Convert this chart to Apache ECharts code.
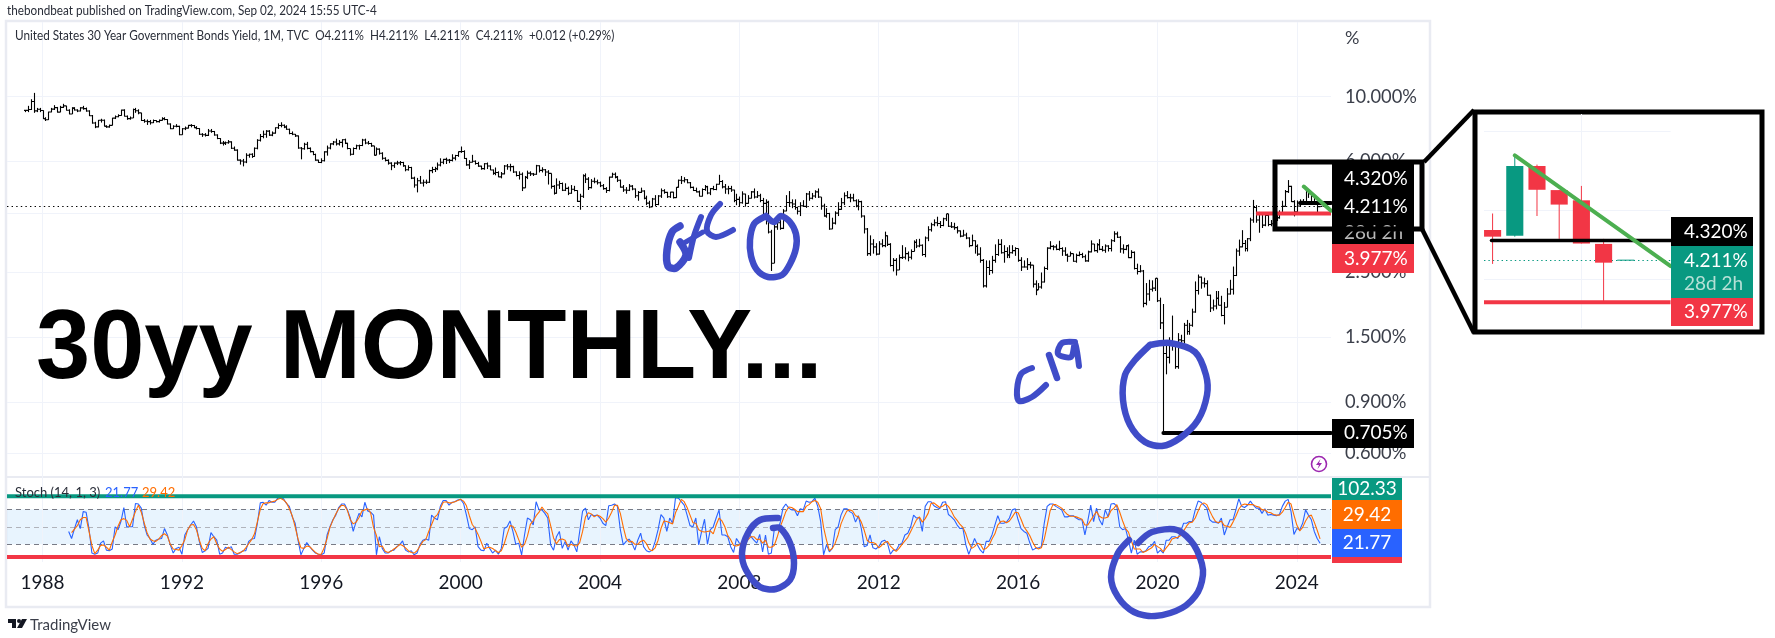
<!DOCTYPE html>
<html><head><meta charset="utf-8">
<style>html,body{margin:0;padding:0;background:#fff}#c{width:1775px;height:638px}</style>
<script src="https://cdn.jsdelivr.net/npm/echarts@6/dist/echarts.min.js"></script>
</head><body><div id="c"></div>
<script>
// ---------- monthly data, first month is 1987-07 ----------
const firstYear = 1987.5;
const closes = [8.97,9.03,9.62,8.94,9.05,8.96,
8.40,8.33,8.86,9.06,9.17,8.85,9.19,9.30,8.98,8.72,9.13,9.00,
8.93,9.15,9.10,8.93,8.60,8.12,7.88,8.30,8.30,7.92,7.88,7.97,
8.44,8.53,8.62,8.99,8.57,8.41,8.45,9.03,8.95,8.80,8.28,8.24,
8.21,8.14,8.28,8.21,8.29,8.41,8.35,8.06,7.76,7.92,7.91,7.40,
7.76,7.80,7.97,7.96,7.83,7.78,7.43,7.40,7.37,7.63,7.60,7.39,
7.19,6.93,6.93,6.95,7.00,6.66,6.56,6.06,6.02,5.97,6.30,6.35,
6.24,6.66,7.09,7.30,7.43,7.62,7.38,7.50,7.82,7.96,7.98,7.87,
7.73,7.48,7.43,7.34,6.67,6.63,6.87,6.65,6.48,6.34,6.06,5.95,
6.03,6.47,6.67,6.89,6.99,6.89,6.97,7.12,6.92,6.64,6.35,6.64,
6.79,6.80,7.10,6.94,6.91,6.78,6.30,6.61,6.40,6.15,6.05,5.92,
5.80,5.92,5.93,5.95,5.80,5.62,5.72,5.26,4.98,5.15,5.06,5.09,
5.09,5.58,5.63,5.66,5.83,5.96,6.10,6.06,6.05,6.16,6.29,6.48,
6.49,6.14,5.84,5.96,6.01,5.90,5.78,5.67,5.89,5.79,5.61,5.46,
5.50,5.31,5.44,5.79,5.75,5.76,5.52,5.37,5.42,4.87,5.29,5.47,
5.44,5.42,5.80,5.59,5.62,5.52,5.46,4.93,4.67,4.98,5.04,4.78,
4.85,4.67,4.82,4.77,4.38,4.56,5.36,5.22,4.88,5.13,5.11,5.07,
4.95,4.84,4.77,5.30,5.42,5.30,5.17,4.90,4.79,4.78,4.94,4.83,
4.58,4.70,4.75,4.49,4.32,4.19,4.46,4.27,4.57,4.76,4.70,4.54,
4.71,4.51,4.89,5.17,5.15,5.19,5.07,4.89,4.77,4.72,4.56,4.81,
4.92,4.68,4.84,4.81,5.01,5.12,4.91,4.83,4.84,4.79,4.41,4.45,
4.33,4.64,4.31,4.49,4.72,4.53,4.58,4.41,4.31,4.35,3.44,2.69,
3.58,3.70,3.54,4.06,4.34,4.33,4.29,4.17,4.05,4.23,4.21,4.64,
4.49,4.57,4.72,4.53,4.22,3.90,3.98,3.52,3.69,3.99,4.11,4.33,
4.58,4.51,4.50,4.40,4.22,4.37,3.90,3.52,2.90,3.13,3.06,2.89,
3.13,3.09,3.34,3.12,2.64,2.75,2.55,2.81,2.82,2.90,2.82,2.95,
3.17,3.08,3.10,2.88,3.28,3.50,3.64,3.70,3.68,3.62,3.82,3.97,
3.60,3.58,3.56,3.47,3.33,3.36,3.28,3.09,3.21,3.07,2.89,2.75,
2.25,2.60,2.54,2.75,2.88,3.12,2.92,2.95,2.87,2.92,2.97,3.02,
2.75,2.61,2.61,2.66,2.65,2.28,2.18,2.23,2.32,2.58,3.03,3.07,
3.06,3.00,3.02,2.96,2.87,2.84,2.90,2.73,2.86,2.88,2.83,2.74,
2.94,3.13,2.97,3.11,3.00,2.98,3.08,3.02,3.21,3.39,3.30,3.01,
3.00,3.09,2.81,2.93,2.58,2.52,2.53,1.96,2.11,2.19,2.21,2.39,
2.00,1.68,1.32,1.28,1.41,1.41,1.19,1.47,1.46,1.65,1.57,1.65,
1.83,2.17,2.41,2.30,2.29,2.09,1.89,1.92,2.04,1.93,1.78,1.90,
2.11,2.19,2.44,2.96,3.06,3.14,3.02,3.26,3.78,4.17,3.78,3.97,
3.63,3.92,3.65,3.67,3.86,3.85,4.01,4.21,4.73,4.93,4.37,4.03,
4.22,4.38,4.34,4.79,4.65,4.56,4.30,4.20,4.211];
const highs = [9.00,9.30,9.80,10.30,9.15,9.15,
8.98,8.50,8.88,9.15,9.35,9.22,9.30,9.45,9.30,9.05,9.20,9.20,
9.05,9.20,9.30,9.18,8.98,8.65,8.20,8.32,8.40,8.35,7.98,8.02,
8.46,8.62,8.70,9.02,9.05,8.62,8.55,9.10,9.15,9.05,8.80,8.38,
8.35,8.32,8.35,8.30,8.35,8.50,8.50,8.38,8.10,7.98,8.05,7.95,
7.80,7.90,8.00,8.05,8.00,7.92,7.80,7.50,7.50,7.75,7.75,7.63,
7.43,7.21,7.05,7.02,7.10,7.03,6.75,6.60,6.10,6.12,6.40,6.38,
6.40,6.70,7.15,7.45,7.65,7.68,7.68,7.60,7.85,8.10,8.17,8.03,
7.98,7.77,7.60,7.45,7.36,6.72,6.95,7.00,6.70,6.50,6.38,6.08,
6.15,6.50,6.80,6.92,7.05,7.18,7.10,7.15,7.18,6.95,6.64,6.70,
6.85,6.85,7.17,7.18,7.05,6.95,6.78,6.70,6.65,6.45,6.20,6.10,
5.96,5.95,6.03,6.02,5.98,5.82,5.82,5.75,5.32,5.27,5.35,5.20,
5.20,5.62,5.75,5.75,5.95,6.15,6.12,6.18,6.12,6.35,6.32,6.49,
6.75,6.55,6.17,6.06,6.32,6.05,5.98,5.80,5.92,5.95,5.82,5.63,
5.72,5.55,5.52,5.83,5.88,5.89,5.80,5.55,5.55,5.50,5.35,5.58,
5.55,5.48,5.84,5.82,5.73,5.65,5.60,5.45,4.98,5.25,5.15,5.08,
5.05,4.92,4.98,4.95,4.78,4.65,5.42,5.46,5.30,5.22,5.28,5.20,
5.12,5.02,4.90,5.32,5.49,5.50,5.35,5.20,4.98,4.90,5.02,4.98,
4.85,4.75,4.88,4.78,4.58,4.40,4.50,4.60,4.60,4.85,4.82,4.72,
4.72,4.72,4.90,5.20,5.35,5.30,5.22,5.10,4.92,4.88,4.77,4.85,
4.98,4.95,4.86,4.95,5.03,5.40,5.18,5.02,4.95,4.95,4.80,4.65,
4.55,4.74,4.65,4.60,4.75,4.85,4.75,4.65,4.50,4.45,4.40,3.50,
3.70,3.75,3.90,4.12,4.60,4.75,4.45,4.45,4.20,4.35,4.42,4.68,
4.75,4.68,4.78,4.85,4.50,4.30,4.15,4.00,3.85,4.05,4.35,4.50,
4.70,4.75,4.65,4.65,4.45,4.45,4.40,3.92,3.55,3.35,3.25,3.15,
3.20,3.25,3.45,3.35,3.15,2.80,2.80,2.88,3.10,3.05,2.95,3.00,
3.22,3.25,3.26,3.12,3.32,3.60,3.70,3.80,3.88,3.75,3.85,3.97,
3.97,3.72,3.70,3.60,3.48,3.50,3.42,3.30,3.37,3.22,3.12,3.05,
2.78,2.75,2.75,2.85,3.12,3.25,3.25,3.10,3.05,3.10,3.10,3.05,
3.02,2.82,2.75,2.80,2.72,2.60,2.35,2.30,2.50,2.62,3.05,3.20,
3.10,3.12,3.21,3.05,3.05,2.90,2.95,2.88,2.90,2.95,2.92,2.88,
2.97,3.22,3.13,3.15,3.25,3.08,3.12,3.10,3.25,3.46,3.45,3.33,
3.12,3.10,3.12,2.98,2.95,2.68,2.65,2.55,2.30,2.36,2.35,2.39,
2.36,2.05,1.95,1.45,1.50,1.78,1.42,1.55,1.53,1.68,1.72,1.68,
1.88,2.33,2.46,2.42,2.40,2.35,2.10,2.02,2.16,2.16,2.08,1.98,
2.21,2.36,2.62,3.02,3.24,3.49,3.23,3.28,3.85,4.43,4.25,4.03,
3.98,3.97,3.98,3.78,3.99,3.98,4.08,4.40,4.79,5.18,4.95,4.42,
4.41,4.45,4.46,4.81,4.78,4.67,4.62,4.33,4.211];
const lows = [8.85,8.85,9.00,8.80,8.85,8.85,
8.38,8.25,8.32,8.84,9.00,8.82,8.85,9.15,8.96,8.70,8.75,8.96,
8.85,8.90,9.02,8.88,8.58,8.08,7.80,7.85,8.15,7.90,7.82,7.83,
7.98,8.38,8.50,8.60,8.55,8.33,8.34,8.45,8.80,8.70,8.25,8.14,
8.00,8.02,8.12,8.16,8.15,8.28,8.30,8.03,7.74,7.75,7.85,7.38,
7.40,7.68,7.78,7.85,7.80,7.72,7.40,7.28,7.30,7.33,7.52,7.35,
7.15,6.88,6.80,6.83,6.90,6.62,6.53,6.04,5.85,5.77,5.92,6.18,
6.17,6.22,6.60,7.02,7.20,7.23,7.34,7.32,7.47,7.75,7.85,7.80,
7.70,7.43,7.38,7.28,6.63,6.10,6.58,6.60,6.44,6.30,6.03,5.93,
5.92,6.00,6.28,6.60,6.82,6.80,6.80,6.70,6.88,6.60,6.28,6.32,
6.60,6.58,6.77,6.87,6.85,6.73,6.28,6.30,6.33,6.08,6.00,5.85,
5.60,5.70,5.83,5.82,5.75,5.55,5.58,5.22,4.88,4.70,5.03,4.92,
5.02,5.06,5.47,5.52,5.60,5.77,5.87,5.88,5.92,6.00,6.05,6.22,
6.42,6.12,5.80,5.65,5.95,5.85,5.75,5.62,5.62,5.65,5.60,5.40,
5.38,5.30,5.25,5.42,5.62,5.55,5.48,5.33,5.20,4.75,4.87,5.22,
5.35,5.35,5.40,5.50,5.50,5.35,5.00,4.84,4.62,4.65,4.83,4.75,
4.75,4.60,4.65,4.74,4.36,4.10,4.50,5.06,4.79,4.85,5.05,5.00,
4.90,4.80,4.68,4.74,5.28,5.25,5.10,4.88,4.72,4.65,4.75,4.78,
4.50,4.40,4.68,4.45,4.25,4.15,4.20,4.22,4.25,4.50,4.65,4.50,
4.50,4.48,4.50,4.88,5.02,5.08,5.05,4.85,4.75,4.70,4.55,4.55,
4.76,4.63,4.60,4.78,4.78,5.00,4.85,4.65,4.63,4.72,4.35,4.25,
4.20,4.30,4.20,4.30,4.48,4.48,4.50,4.35,3.95,3.65,3.40,2.53,
2.75,3.50,3.50,3.52,4.05,4.20,4.15,4.10,3.95,3.90,4.20,4.16,
4.40,4.45,4.50,4.50,4.10,3.88,3.85,3.50,3.55,3.65,3.90,4.10,
4.25,4.48,4.35,4.38,4.18,4.08,3.85,3.40,2.85,2.85,2.90,2.86,
2.88,3.05,3.05,3.08,2.62,2.52,2.44,2.55,2.78,2.77,2.73,2.77,
2.98,3.03,3.05,2.85,2.82,3.20,3.45,3.60,3.60,3.55,3.60,3.75,
3.58,3.55,3.50,3.40,3.30,3.32,3.25,3.05,3.08,2.90,2.85,2.70,
2.22,2.22,2.45,2.48,2.70,2.85,2.90,2.70,2.80,2.80,2.90,2.85,
2.72,2.53,2.60,2.55,2.58,2.22,2.09,2.18,2.20,2.31,2.55,3.00,
2.98,2.98,2.97,2.85,2.85,2.72,2.84,2.72,2.70,2.84,2.80,2.72,
2.72,2.93,2.95,2.92,2.98,2.95,2.92,2.95,2.95,3.18,3.28,2.92,
2.90,2.98,2.80,2.80,2.56,2.46,2.50,1.90,1.93,2.00,2.15,2.16,
1.98,1.60,0.705,1.12,1.22,1.35,1.17,1.17,1.38,1.41,1.53,1.53,
1.63,1.82,2.10,2.20,2.22,2.08,1.83,1.85,1.87,1.93,1.77,1.66,
1.90,2.10,2.10,2.43,2.85,3.05,2.95,2.95,3.20,3.70,3.70,3.42,
3.55,3.60,3.60,3.60,3.62,3.75,3.82,3.98,4.20,4.68,4.36,3.89,
4.03,4.22,4.27,4.34,4.50,4.30,4.26,3.98,4.211];
const stochK = [42,30,47,62,47,76,75,47,5,3,5,22,26,10,9,12,50,45,59,83,50,50,50,90,89,82,53,36,30,20,27,29,30,47,36,19,5,13,15,3,36,45,53,60,50,25,6,9,13,40,33,27,3,5,15,13,16,3,3,5,9,9,25,29,30,56,91,92,87,95,92,92,99,100,98,90,85,67,56,27,2,13,23,16,10,5,3,2,5,36,50,62,70,83,89,89,79,65,42,59,73,67,92,77,75,70,2,33,13,5,5,9,10,16,19,26,10,7,9,2,5,20,27,29,27,70,65,62,85,95,95,87,92,93,96,97,
90,70,47,45,50,16,10,9,22,13,5,10,3,13,47,50,60,42,20,22,2,36,65,62,53,93,79,79,73,65,19,10,33,42,13,25,10,26,19,7,42,77,82,62,71,69,70,65,56,52,86,87,89,85,45,19,25,29,22,10,27,39,16,9,7,10,25,45,71,65,42,65,56,100,99,93,87,70,52,50,65,19,42,63,20,45,50,65,79,36,36,33,16,6,30,22,19,25,39,33,27,22,37,7,36,3,5,45,47,56,82,89,82,79,79,69,81,79,94,92,93,99,85,59,2,19,7,13,45,50,70,81,81,76,73,58,69,47,16,18,36,14,12,16,25,27,22,3,10,10,19,
22,36,39,50,70,65,66,42,85,93,93,86,83,81,92,93,71,67,62,53,47,47,19,3,16,30,19,10,5,25,25,36,53,69,56,56,58,65,79,81,62,47,42,39,23,10,13,14,16,56,85,89,89,85,82,79,67,67,69,69,65,62,62,36,60,87,59,82,62,53,79,67,89,90,85,50,45,47,27,5,27,3,7,7,9,16,18,25,5,10,5,27,27,33,33,30,42,56,56,59,59,79,94,92,87,82,62,58,58,56,65,36,50,62,62,79,98,85,83,87,94,87,82,82,73,81,70,71,70,69,71,85,94,97,76,37,47,45,56,79,70,62,42,30,21.77];
const stochD = [40,46,52,62,66,66,42,18,4,10,18,19,15,10,24,36,51,62,64,61,50,63,76,87,75,57,40,29,26,25,29,35,38,34,20,12,11,10,18,28,45,53,54,45,27,13,9,21,29,33,21,12,8,11,15,11,7,4,6,8,14,21,28,38,59,80,90,91,91,93,94,97,99,96,91,81,69,50,29,14,13,17,16,11,6,3,3,14,30,49,61,72,81,87,86,78,62,55,58,66,77,79,81,74,49,35,16,17,8,6,8,12,15,20,18,14,9,6,5,9,17,25,28,42,54,66,71,81,92,93,91,91,93,95,97,
94,86,69,54,47,37,25,12,14,15,13,9,6,9,21,37,52,51,41,28,15,20,34,54,60,69,75,84,77,72,52,31,21,28,29,27,16,20,18,17,23,42,67,74,72,67,70,68,64,58,65,75,87,87,73,50,30,24,25,20,20,25,27,21,11,9,14,27,47,60,59,57,55,74,85,97,93,83,70,57,56,45,42,41,42,43,38,53,65,60,50,35,28,18,17,19,24,22,28,33,33,28,29,22,27,15,15,18,32,49,62,76,84,83,80,76,76,76,85,88,93,95,92,81,49,27,9,13,22,36,55,67,77,79,77,69,67,58,44,27,23,23,21,14,18,23,25,17,12,8,13,
20,26,32,42,52,62,67,58,64,73,90,91,87,83,85,89,85,77,67,61,54,49,38,23,13,16,22,20,11,13,18,29,38,53,59,60,57,60,67,75,74,63,50,43,35,24,15,12,14,29,52,77,88,88,85,82,76,71,68,68,67,65,63,53,53,61,69,76,68,65,65,67,78,82,88,75,60,47,41,26,12,12,12,6,8,11,14,20,16,13,7,14,20,29,31,32,35,43,51,57,58,65,77,88,91,88,77,67,59,57,60,52,51,49,58,68,80,87,89,88,88,88,85,84,79,79,75,74,71,70,70,75,83,92,89,70,53,43,49,60,68,70,58,44,29.42];
// ---------- axis ticks and levels ----------
const yearTicks = [1988,1992,1996,2000,2004,2008,2012,2016,2020,2024];
const priceTicks = [10,6,4,2.5,1.5,0.9,0.6];
const lastPrice = 4.211, resistance = 4.32, support = 3.977, covidLow = 0.705;
const stochTop = 102.33, stochBottom = -1.7, stochBand = [20,50,80];
const downTrend = [[2024.2,4.92],[2024.98,4.07]];
// ---------- inset (zoomed candles) ----------
const insetSlots = [0,1,2,3,4,5,6];
const insetOpen = [4.382,4.349,4.775,4.623,4.56,4.301,4.211];
const insetClose = [4.343,4.775,4.625,4.534,4.303,4.194,4.211];
const insetHigh = [4.48,4.843,4.784,4.623,4.649,4.33,4.211];
const insetLow = [4.187,4.343,4.465,4.33,4.303,3.977,4.211];
const insetGrid = [5,4.5,4.1];
const insetLabels = [5,4.5];
const insetYearSlot = 4;
const insetTrend = [[1,4.843],[8.018,4.175]];

const UP='#089981',DOWN='#f23645',GRID='#f0f3fa',FONT='Lato, "Open Sans", sans-serif',BLUE='#3f4cc8';
const xMin=1986.98,xMax=2024.98;
const yearOf=i=>firstYear+i/12;
const ohlcRows=closes.map((c,i)=>[yearOf(i),i?closes[i-1]:c,c,lows[i],highs[i]]);
const kRows=stochK.map((v,i)=>[yearOf(closes.length-stochK.length+i),v]);
const dRows=stochD.map((v,i)=>[yearOf(closes.length-stochD.length+i),v]);

function ohlcItem(params,api){
  const x=api.value(0),o=api.value(1),c=api.value(2);
  const l=Math.min(api.value(3),o,c),h=Math.max(api.value(4),o,c);
  const px=Math.round(api.coord([x,o])[0])+.5;
  const yy=v=>api.coord([x,v])[1];
  const st={stroke:'#000',lineWidth:1.1};
  return {type:'group',children:[
    {type:'line',shape:{x1:px,y1:yy(l),x2:px,y2:yy(h)},style:st},
    {type:'line',shape:{x1:px-1.5,y1:yy(o),x2:px,y2:yy(o)},style:st},
    {type:'line',shape:{x1:px,y1:yy(c),x2:px+1.5,y2:yy(c)},style:st}]};
}
function candleItem(params,api){
  const s=api.value(0),o=api.value(1),c=api.value(2),l=api.value(3),h=api.value(4);
  const col=c>o?UP:(c<o?DOWN:UP);
  const p=v=>api.coord([s,v]);
  const half=api.size([1,0])[0]*.385;
  const a=p(Math.max(o,c)),b=p(Math.min(o,c));
  return {type:'group',children:[
    {type:'line',shape:{x1:a[0],y1:p(h)[1],x2:a[0],y2:p(l)[1]},style:{stroke:col,lineWidth:1}},
    {type:'rect',shape:{x:a[0]-half,y:a[1],width:half*2,height:Math.max(b[1]-a[1],1)},style:{fill:col}}]};
}
const noSym={symbol:'none',silent:true,animation:false,label:{show:false}};
const vLines=(vals,col)=>vals.map(v=>({xAxis:v,lineStyle:{color:col,width:1,type:'solid'}}));
const hLines=(vals,col)=>vals.map(v=>({yAxis:v,lineStyle:{color:col,width:1,type:'solid'}}));
const seg=(pts,col,w,idx,extra)=>Object.assign({type:'line',xAxisIndex:idx,yAxisIndex:idx,data:pts,showSymbol:false,symbol:'none',silent:true,z:6,
  lineStyle:{color:col,width:w,cap:'round'}},extra||{});
const txt=(x,y,s,size,fill,align,z,sx)=>({type:'text',z:z||60,x,y,scaleX:sx||1,style:{x:0,y:0,text:s,font:size+'px '+FONT,fill,textAlign:align||'left',textVerticalAlign:'middle'}});
const box=(x,y,w,h,fill,z)=>({type:'rect',z:z||50,shape:{x,y,width:w,height:h},style:{fill}});
const stroke=(pts,w,col)=>({type:'polyline',z:70,shape:{points:pts,smooth:.3},style:{stroke:col||BLUE,lineWidth:w||5,fill:null,lineJoin:'round',lineCap:'round'}});

const scribbles=[
 // GFC
 stroke([[680,226],[672,232],[667,250],[668,266],[676,268],[686,255],[680,242]],7.5),
 stroke([[701,217],[694,236],[689,258]],6),
 stroke([[684,243],[703,232]],5),
 stroke([[720,204],[711,215],[707,231],[716,237],[733,230]],6),
 // circle around the 2008 low
 stroke([[764,217],[754,224],[750,240],[751,256],[757,270],[768,277],[782,275],[790,264],[796,248],[796,234],[790,222],[781,216],[774,222],[766,216]],6.5),
 // C19
 stroke([[1032,368],[1021,374],[1017,390],[1019,401],[1032,397],[1046,385]],6),
 stroke([[1049,355],[1057,378]],6.5),
 stroke([[1075,342],[1062,343],[1058,354],[1071,357],[1075,343],[1079,366]],6),
 // circle around the 2020 low
 stroke([[1150,345],[1170,343],[1195,352],[1206,375],[1207,395],[1198,420],[1180,438],[1162,446],[1145,442],[1130,425],[1123,400],[1125,375],[1135,360],[1150,345]],6.5),
 // stochastic circles
 stroke([[778,518],[760,520],[748,533],[742,553],[746,570],[760,587],[776,589],[790,580],[794,563],[790,543],[780,528],[773,528]],6.5),
 stroke([[1138,543],[1152,532],[1177,530],[1194,545],[1203,570],[1198,592],[1182,608],[1155,616],[1134,612],[1118,597],[1111,577],[1118,553],[1129,540]],6.5)
];
const graphics=[
 {type:'rect',z:0,shape:{x:6,y:21,width:1424,height:586},style:{fill:'none',stroke:'#e9ebf2',lineWidth:2.5}},
 {type:'line',z:0,shape:{x1:7,y1:477,x2:1429,y2:477},style:{stroke:'#e9ebf2',lineWidth:2}},
 txt(7,11,'thebondbeat published on TradingView.com, Sep 02, 2024 15:55 UTC-4',13.6,'#2a2e39','left',60,.862),
 txt(15,36,'United States 30 Year Government Bonds Yield, 1M, TVC  O4.211%  H4.211%  L4.211%  C4.211%  +0.012 (+0.29%)',13.6,'#2a2e39','left',60,.863),
 txt(1345,38,'%',18,'#3b3f4a'),
 {type:'text',z:20,style:{x:36,y:351,text:'30yy MONTHLY...',font:'bold 97.4px "Liberation Sans", Arial, sans-serif',fill:'#000',textVerticalAlign:'middle'}},
 // stochastic legend
 txt(15,493,'Stoch (14, 1, 3)',13,'#2a2e39'),txt(105,493,'21.77',13,'#2962ff'),txt(142,493,'29.42',13,'#ff6d00'),
 // main price labels
 box(1332,163,82,81,'#000'),
 box(1332,244,82,29,DOWN),
 box(1332,419,82,29,'#000'),
 txt(1344,179,'4.320%',19,'#fff'),txt(1344,207,'4.211%',19,'#fff'),txt(1344,233,'28d 2h',19,'#b8b8b8'),
 txt(1344,259,'3.977%',19,'#fff'),txt(1344,433,'0.705%',19,'#fff'),
 // zoom rectangle and connector
 {type:'rect',z:65,shape:{x:1275,y:162,width:147,height:67},style:{fill:'none',stroke:'#000',lineWidth:5}},
 {type:'line',z:45,shape:{x1:1424,y1:162,x2:1474,y2:110},style:{stroke:'#000',lineWidth:4.5}},
 {type:'line',z:45,shape:{x1:1422,y1:229,x2:1474,y2:333},style:{stroke:'#000',lineWidth:4.5}},
 {type:'rect',z:1,shape:{x:1475,y:112,width:287,height:220},style:{fill:'#fff',stroke:'#000',lineWidth:5}},
 // inset labels
 box(1671,217,82,29,'#000'),box(1671,246,82,52,UP),box(1671,298,82,28,DOWN),
 txt(1684,232,'4.320%',19,'#fff'),txt(1684,261,'4.211%',19,'#fff'),txt(1684,284,'28d 2h',19,'#b5e0d6'),txt(1684,312,'3.977%',19,'#fff'),
 // stochastic labels
 box(1332,478,70,22,UP),box(1332,500,70,29,'#ff6d00'),box(1332,529,70,28,'#2962ff'),box(1332,557,70,6,DOWN),
 txt(1367,489,'102.33',19,'#fff','center'),txt(1367,515,'29.42',19,'#fff','center'),txt(1367,543,'21.77',19,'#fff','center'),
 // publish-time icon
 {type:'circle',z:30,shape:{cx:1319,cy:464,r:7.5},style:{fill:'#fff',stroke:'#9c27b0',lineWidth:1.6}},
 {type:'polygon',z:31,shape:{points:[[1320.5,459],[1316,465],[1319,465],[1317.5,469],[1322,463],[1319,463]]},style:{fill:'#9c27b0'}},
 // TradingView mark
 {type:'polygon',z:30,shape:{points:[[8,619],[16,619],[16,628],[12,628],[12,623],[8,623]]},style:{fill:'#131722'}},
 {type:'circle',z:30,shape:{cx:19,cy:621,r:2},style:{fill:'#131722'}},
 {type:'polygon',z:30,shape:{points:[[22,619],[27,619],[22,628],[17,628]]},style:{fill:'#131722'}},
 txt(30,625,'TradingView',15,'#3b3f4a')
].concat(scribbles);

const logAxis=(idx,min,max,labels,margin)=>({type:'log',gridIndex:idx,position:'right',min,max,splitLine:{show:false},minorSplitLine:{show:false},
  axisLine:{show:false},axisTick:{show:false},
  axisLabel:{show:!!labels,customValues:labels||undefined,margin,align:'left',color:'#3b3f4a',fontSize:18.3,fontFamily:FONT,formatter:v=>Number(v).toFixed(3)+'%',hideOverlap:false}});
const option={
 animation:false,backgroundColor:'#fff',
 grid:[
  {left:7,top:22,width:1324,height:455},
  {left:7,top:477,width:1324,height:85},
  {left:1484,top:114,width:186.6,height:214}
 ],
 xAxis:[
  {type:'value',gridIndex:0,min:xMin,max:xMax,splitLine:{show:false},axisLine:{show:false},axisTick:{show:false},axisLabel:{show:false}},
  {type:'value',gridIndex:1,min:xMin,max:xMax,splitLine:{show:false},axisLine:{show:false},axisTick:{show:false},
   axisLabel:{customValues:yearTicks,formatter:v=>String(Math.round(v)),margin:11,color:'#131722',fontSize:19,fontFamily:FONT,hideOverlap:false}},
  {type:'value',gridIndex:2,min:-0.387,max:8.018,splitLine:{show:false},axisLine:{show:false},axisTick:{show:false},axisLabel:{show:false}}
 ],
 yAxis:[
  logAxis(0,0.4985,18.01,priceTicks,14),
  {type:'value',gridIndex:1,min:-10.3,max:135.3,splitLine:{show:false},axisLine:{show:false},axisTick:{show:false},axisLabel:{show:false}},
  logAxis(2,3.842,5.12,insetLabels,13)
 ],
 graphic:graphics,
 series:[
  {type:'custom',xAxisIndex:0,yAxisIndex:0,renderItem:ohlcItem,data:ohlcRows,encode:{x:0,y:[1,2,3,4]},clip:true,silent:true,z:4,
   markLine:Object.assign({},noSym,{z:1,data:[...vLines(yearTicks,GRID),...hLines(priceTicks,GRID),
     {yAxis:lastPrice,lineStyle:{color:'#000',width:1.2,type:[1.4,3.2]}}]})},
  seg([[2020.17,covidLow],[xMax,covidLow]],'#000',4,0),
  seg([[2024.09,resistance],[xMax,resistance]],'#000',4,0),
  seg([[2022.83,support],[xMax,support]],DOWN,4,0,{lineStyle:{color:DOWN,width:4,cap:'butt'}}),
  seg(downTrend,'#4caf50',4,0),
  {type:'line',xAxisIndex:1,yAxisIndex:1,data:kRows,showSymbol:false,symbol:'none',silent:true,z:5,lineStyle:{color:'#2962ff',width:1.1},
   markArea:{silent:true,z:1,itemStyle:{color:'rgba(33,150,243,0.1)'},label:{show:false},data:[[{yAxis:stochBand[0]},{yAxis:stochBand[2]}]]},
   markLine:Object.assign({},noSym,{z:2,data:[...vLines(yearTicks,GRID),
     {yAxis:stochBand[0],lineStyle:{color:'#787b86',width:1.2,type:[5,4]}},
     {yAxis:stochBand[1],lineStyle:{color:'#b0b3bb',width:1.2,type:[5,4]}},
     {yAxis:stochBand[2],lineStyle:{color:'#787b86',width:1.2,type:[5,4]}}]})},
  {type:'line',xAxisIndex:1,yAxisIndex:1,data:dRows,showSymbol:false,symbol:'none',silent:true,z:6,lineStyle:{color:'#ff6d00',width:1.1}},
  seg([[xMin,stochTop],[xMax,stochTop]],UP,4,1,{lineStyle:{color:UP,width:4,cap:'butt'}}),
  seg([[xMin,stochBottom],[xMax,stochBottom]],DOWN,4,1,{lineStyle:{color:DOWN,width:4,cap:'butt'}}),
  {type:'custom',xAxisIndex:2,yAxisIndex:2,renderItem:candleItem,clip:true,silent:true,z:4,
   data:insetSlots.map((s,i)=>[s,insetOpen[i],insetClose[i],insetLow[i],insetHigh[i]]),encode:{x:0,y:[1,2,3,4]},
   markLine:Object.assign({},noSym,{z:2,data:[...hLines(insetGrid,GRID),...vLines([insetYearSlot],GRID),
     {yAxis:lastPrice,lineStyle:{color:UP,width:1.2,type:[1.4,3]}}]})},
  seg([[-0.05,resistance],[8.018,resistance]],'#000',3.5,2),
  seg([[-0.387,support],[8.018,support]],DOWN,4,2,{lineStyle:{color:DOWN,width:4,cap:'butt'}}),
  seg(insetTrend,'#4caf50',4,2)
 ]
};
echarts.init(document.getElementById('c'),null,{renderer:'canvas'}).setOption(option);
</script></body></html>
